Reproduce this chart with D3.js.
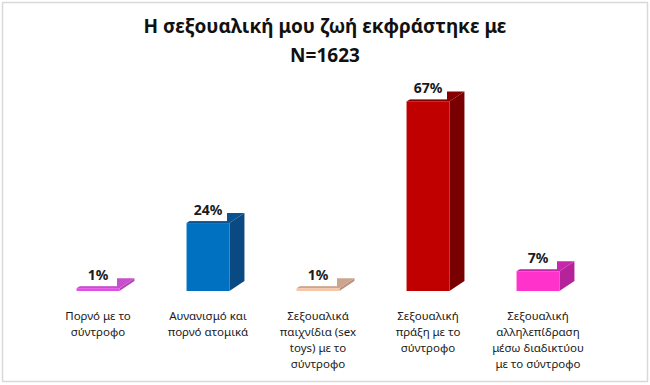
<!DOCTYPE html>
<html>
<head>
<meta charset="utf-8">
<script src="https://cdn.jsdelivr.net/npm/d3@7"></script>
<style>
  body { margin: 0; background: #fff; }
  text { font-family: "Noto Sans", "DejaVu Sans", sans-serif; }
</style>
</head>
<body>
<div id="chart"></div>
<script>
// Chart data
const categories = [
    "Πορνό με το σύντροφο",
    "Αυνανισμό και πορνό ατομικά",
    "Σεξουαλικά παιχνίδια (sex toys) με το σύντροφο",
    "Σεξουαλική πράξη με το σύντροφο",
    "Σεξουαλική αλληλεπίδραση μέσω διαδικτύου με το σύντροφο"
];
const categoryLines = [
    ["Πορνό με το", "σύντροφο"],
    ["Αυνανισμό και", "πορνό ατομικά"],
    ["Σεξουαλικά", "παιχνίδια (sex", "toys) με το", "σύντροφο"],
    ["Σεξουαλική", "πράξη με το", "σύντροφο"],
    ["Σεξουαλική", "αλληλεπίδραση", "μέσω διαδικτύου", "με το σύντροφο"]
];
const values = [1, 24, 1, 67, 7];
const frontColors = ["#e14fe6", "#0070c0", "#f6c7a6", "#c00000", "#ff33cc"];
const sideColors = ["#b347b8", "#0a4a82", "#b89380", "#780000", "#b5239a"];
const titleLines = ["Η σεξουαλική μου ζωή εκφράστηκε με", "N=1623"];

const width = 650;
const height = 385;
const baseY = 291;
const depthX = 15;
const depthY = 10;

const svg = d3.select("#chart")
    .append("svg")
    .attr("width", width)
    .attr("height", height);

// frame
svg.append("rect")
    .attr("x", 2.5).attr("y", 2.5)
    .attr("width", 645).attr("height", 379)
    .attr("fill", "#fff")
    .attr("stroke", "#d9d9d9")
    .attr("stroke-width", 1.5);

// title
svg.append("text")
    .attr("x", 325)
    .attr("y", 33)
    .attr("text-anchor", "middle")
    .attr("font-size", "19px")
    .attr("font-weight", "bold")
    .attr("fill", "#111")
    .selectAll("tspan")
    .data(titleLines)
    .enter()
    .append("tspan")
    .attr("x", 325)
    .attr("dy", (d, i) => i === 0 ? 0 : 29)
    .text(d => d);

const x = d3.scaleBand()
    .domain(categories)
    .range([43, 593])
    .paddingInner(0.61)
    .paddingOuter(0.305);

const y = d3.scaleLinear()
    .domain([0, 100])
    .range([baseY, baseY - 283]);

const data = categories.map((c, i) => ({ cat: c, value: values[i], i: i }));

const bars = svg.selectAll("g.bar")
    .data(data)
    .enter()
    .append("g")
    .attr("class", "bar");

// side face
bars.append("polygon")
    .attr("points", d => {
        const x1 = x(d.cat) + x.bandwidth();
        const yt = y(d.value);
        return [[x1, yt], [x1 + depthX, yt - depthY], [x1 + depthX, baseY - depthY], [x1, baseY]].join(" ");
    })
    .attr("fill", d => sideColors[d.i]);

// top face
bars.append("polygon")
    .attr("points", d => {
        const x0 = x(d.cat);
        const x1 = x0 + x.bandwidth();
        const yt = y(d.value);
        return [[x0, yt], [x0 + depthX, yt - depthY], [x1 + depthX, yt - depthY], [x1, yt]].join(" ");
    })
    .attr("fill", d => d3.color(sideColors[d.i]).brighter(0.3));

// front face
bars.append("rect")
    .attr("x", d => x(d.cat))
    .attr("y", d => y(d.value))
    .attr("width", x.bandwidth())
    .attr("height", d => baseY - y(d.value))
    .attr("fill", d => frontColors[d.i]);

// value labels with white box
const cx = d => x(d.cat) + x.bandwidth() / 2;
bars.append("rect")
    .attr("x", d => cx(d) - 19)
    .attr("y", d => y(d.value) - 21)
    .attr("width", 38)
    .attr("height", 19)
    .attr("fill", "#fff");

bars.append("text")
    .attr("x", cx)
    .attr("y", d => y(d.value) - 8)
    .attr("text-anchor", "middle")
    .attr("font-size", "14px")
    .attr("font-weight", "bold")
    .attr("fill", "#1a1a1a")
    .text(d => d.value + "%");

// category labels
const labels = svg.selectAll("text.cat")
    .data(data)
    .enter()
    .append("text")
    .attr("class", "cat")
    .attr("text-anchor", "middle")
    .attr("font-size", "11.5px")
    .attr("fill", "#1a1a1a")
    .attr("y", 320);

labels.selectAll("tspan")
    .data(d => categoryLines[d.i].map(t => ({ t: t, cx: cx(d) })))
    .enter()
    .append("tspan")
    .attr("x", d => d.cx)
    .attr("dy", (d, i) => i === 0 ? 0 : 16)
    .text(d => d.t);
</script>
</body>
</html>
